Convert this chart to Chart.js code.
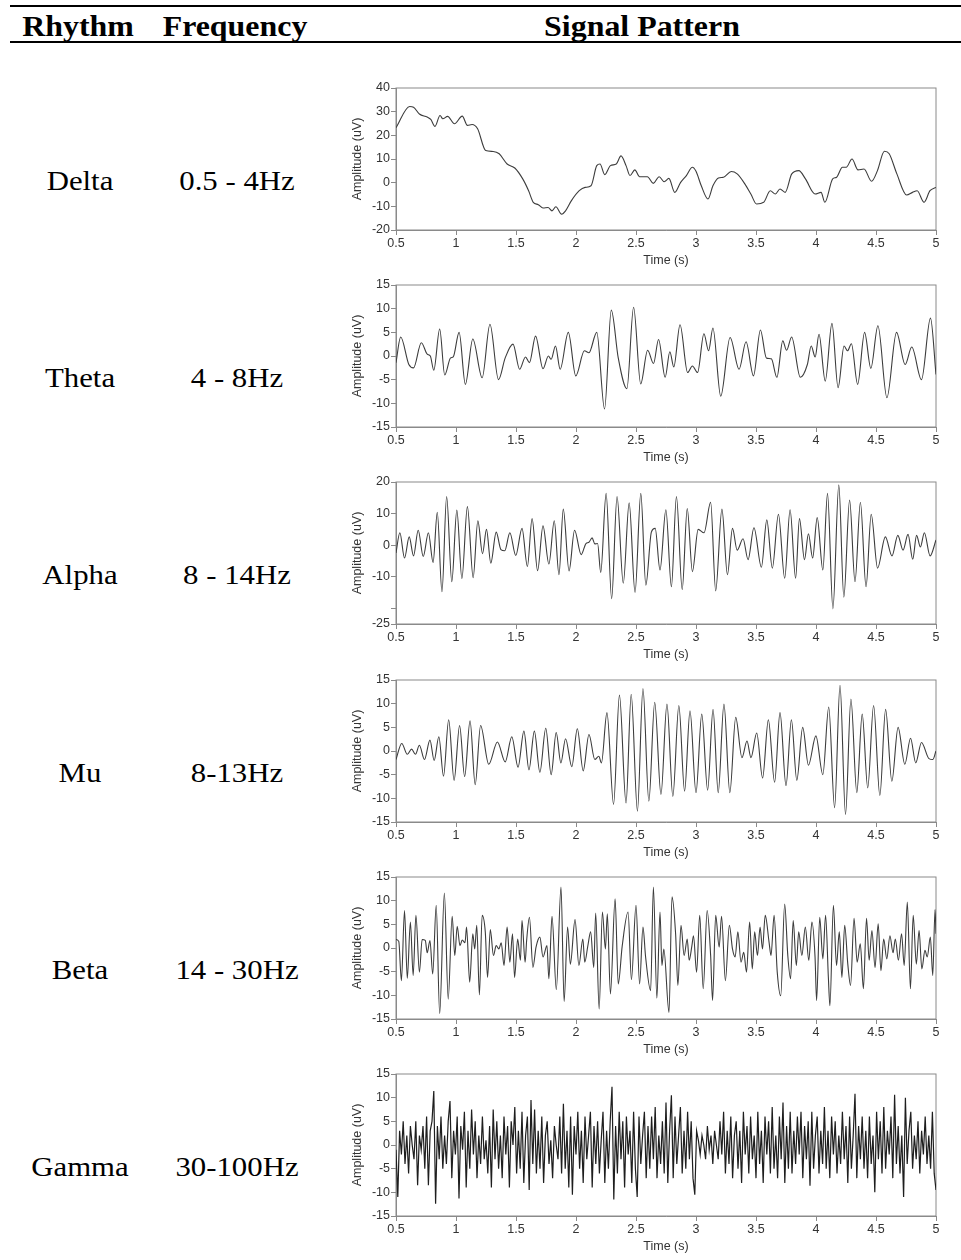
<!DOCTYPE html>
<html>
<head>
    <title>EEG Rhythms</title>
    <script src="https://cdn.jsdelivr.net/npm/chart.js"></script>
    <style>
        body { margin: 0; background: #fff; }
        #page { position: relative; width: 961px; height: 1260px; overflow: hidden; }
        .rule { position: absolute; left: 10px; right: 0; height: 2px; background: #000; }
        .txt {
            position: absolute; white-space: nowrap; line-height: 1;
            font-family: 'Liberation Serif', 'Times New Roman', serif; color: #000;
            transform: translateX(-50%) scaleX(1.1);
        }
        .head { font-weight: bold; font-size: 29px; }
        .cell { font-size: 28px; }
        canvas { position: absolute; }
    </style>
</head>
<body>
<div id="page">
    <div class="rule" style="top:5px"></div>
    <div class="rule" style="top:41px"></div>
    <div class="txt head" style="left:78px;top:12px">Rhythm</div>
    <div class="txt head" style="left:235px;top:12px">Frequency</div>
    <div class="txt head" style="left:642px;top:12px">Signal Pattern</div>
</div>
<script>
    const rhythms = ['Delta', 'Theta', 'Alpha', 'Mu', 'Beta', 'Gamma'];
    const bands = ['0.5 - 4Hz', '4 - 8Hz', '8 - 14Hz', '8-13Hz', '14 - 30Hz', '30-100Hz'];
    const timeTicks = { min: 0.5, max: 5, step: 0.5 };

    // Delta (y -20..40)
    const deltaTime = [0.5,0.614,0.646,0.695,0.76,0.79,0.825,0.867,0.89,0.93,0.987,1.052,1.095,1.134,1.18,1.247,1.31,1.36,1.426,1.49,
        1.556,1.605,1.644,1.686,1.725,1.767,1.8,1.832,1.88,1.913,1.962,2.027,2.076,2.125,2.173,2.2,2.24,2.287,2.336,2.375,
        2.417,2.45,2.49,2.53,2.595,2.644,2.693,2.735,2.774,2.823,2.872,2.92,2.97,3.0,3.044,3.1,3.141,3.187,3.229,3.294,
        3.343,3.408,3.457,3.505,3.564,3.619,3.661,3.7,3.743,3.798,3.857,3.912,3.993,4.042,4.074,4.139,4.172,4.22,4.252,4.3,
        4.35,4.4,4.463,4.512,4.57,4.61,4.674,4.755,4.804,4.843,4.9,4.95,5.0];
    const deltaAmp = [23.2,32.2,31.9,29,27.7,26.7,23.8,28.4,27,28,24.9,28.1,24.2,24.6,22.8,13.6,13.2,12.2,7.9,6.2,
        1.6,-3.4,-8.3,-9.3,-10.7,-10.5,-11.9,-10.2,-13.3,-11.9,-7.6,-3.4,-2,-1.3,7.2,7.9,3.4,7.2,7.9,11.3,
        7.2,3,5.4,2.5,2.5,-0.3,2.5,0.4,1.8,-4.1,0.1,3,6.5,4.8,-1.3,-6.9,-1.3,2,2.3,4.7,
        3.7,-0.6,-4.8,-9,-8.3,-3.4,-4.8,-2.7,-4.1,3.7,5.1,1.6,-4.8,-4.1,-8.3,1.6,2.3,6.5,6.5,10,
        5.4,5.8,0.6,5.1,13.3,12.2,3.7,-5.2,-4.1,-3.4,-8.3,-3.4,-2];

    // Theta (y -15..15)
    const thetaTime = [0.5,0.539,0.607,0.646,0.711,0.76,0.786,0.815,0.864,0.906,
        0.955,0.977,1.026,1.078,1.14,1.218,1.283,1.354,1.41,1.475,
        1.53,1.579,1.612,1.663,1.725,1.77,1.793,1.829,1.868,1.936,
        1.998,2.07,2.108,2.173,2.238,2.294,2.352,2.424,2.48,2.539,
        2.597,2.646,2.688,2.743,2.782,2.815,2.867,2.93,2.97,3.013,
        3.066,3.105,3.141,3.206,3.284,3.359,3.417,3.479,3.537,3.586,
        3.628,3.674,3.723,3.755,3.797,3.869,3.928,3.96,3.993,4.025,
        4.077,4.133,4.184,4.234,4.263,4.295,4.347,4.405,4.457,4.516,
        4.591,4.671,4.743,4.798,4.879,4.954,5.0];
    const thetaAmp = [-1.4,4,-1.8,-2.5,2.8,0.4,0,-3,5.7,-4,
        -0.4,-0.2,5,-6,3.6,-4.6,6.7,-5,-0.4,2.5,
        -2.8,-0.2,-1.4,4.2,-2.7,0,-0.7,2.1,-2.8,5,
        -4.2,1.1,0.7,5,-11.2,9.7,-0.4,-6.9,10.3,-5.9,
        1.2,-1.6,3.5,-4.5,0.9,-2.3,6.6,-3.5,-2.1,-3.5,
        4.7,1.1,5.9,-8.5,3.9,-2.8,3,-4.2,5.5,-0.4,
        -0.6,-4.5,3.2,1.2,4,-4.5,-1.8,2.1,-0.2,4.6,
        -5.3,6.9,-6.7,2.1,1.1,2.6,-6,5,-2.6,6.4,
        -8.8,5,-1.8,1.9,-5,8,-3.9];

    // Alpha (y -25..20, tick at -20 without label)
    const alphaTime = [0.5,0.532,0.571,0.61,0.646,0.685,0.727,0.77,0.809,0.844,
        0.883,0.922,0.965,1.007,1.049,1.095,1.143,1.182,1.221,1.254,
        1.29,1.335,1.374,1.406,1.449,1.498,1.55,1.595,1.634,1.68,
        1.725,1.774,1.819,1.858,1.894,1.942,1.988,2.043,2.083,2.108,
        2.134,2.157,2.18,2.206,2.251,2.297,2.342,2.394,2.443,2.492,
        2.54,2.582,2.628,2.66,2.7,2.749,2.795,2.837,2.885,2.927,
        2.97,3.018,3.067,3.122,3.164,3.216,3.262,3.304,3.343,3.392,
        3.434,3.483,3.545,3.59,3.636,3.687,3.739,3.784,3.83,3.862,
        3.904,3.937,3.972,4.01,4.057,4.096,4.141,4.19,4.232,4.28,
        4.325,4.37,4.417,4.46,4.513,4.578,4.633,4.682,4.725,4.767,
        4.806,4.838,4.87,4.903,4.951,5.0];
    const alphaAmp = [-2.5,3.9,-4.1,2.6,-3.4,4.7,-3.6,3.9,-5.5,10.4,
        -14.8,15.4,-11.6,11.1,-10.6,12.2,-10.3,7.7,-2.7,5,
        -5.7,4.1,-1.4,-1.8,3.9,-3.3,5.3,-6.8,8.4,-8.1,
        6.1,-6,7.7,-9.4,11.4,-8.2,4.7,-3,0.5,0.9,
        2.3,0.4,0.5,-8.7,16.4,-17,15.4,-12.1,13.4,-15,
        16.4,-12.7,4.1,5.3,-7.9,11.2,-13.2,15.4,-14.1,11.6,
        -8.4,5,3.9,13.6,-14.5,11.4,-9.4,5.3,-1.6,2,
        -4.6,5.5,-7,8,-7.3,9.8,-10.5,11.2,-10.5,8.4,
        -4.6,3.6,-4.1,8.7,-7.9,16.4,-20.2,19.1,-16.5,14.3,
        -11.6,13.6,-13.2,9.8,-7.3,2.6,-3.4,3.1,-1.6,3.4,
        -4.5,3.1,-0.6,3.9,-3.4,1.6];
    const alphaTicks = [-25, -20, -10, 0, 10, 20];
    const alphaUnlabelled = [-20];

    // Mu (y -15..15)
    const muTime = [0.5,0.548,0.594,0.63,0.662,0.695,0.737,0.783,0.818,0.857,
        0.896,0.939,0.984,1.03,1.072,1.117,1.16,1.205,1.273,1.345,
        1.41,1.465,1.517,1.566,1.608,1.653,1.699,1.748,1.793,1.835,
        1.874,1.913,1.965,2.011,2.06,2.108,2.157,2.19,2.212,2.258,
        2.313,2.362,2.417,2.46,2.512,2.558,2.607,2.656,2.708,2.758,
        2.807,2.857,2.905,2.95,3.0,3.048,3.097,3.142,3.185,3.233,
        3.282,3.331,3.383,3.425,3.458,3.506,3.555,3.603,3.655,3.7,
        3.75,3.795,3.84,3.889,3.937,3.999,4.057,4.106,4.155,4.2,
        4.246,4.291,4.34,4.385,4.431,4.48,4.532,4.58,4.632,4.684,
        4.74,4.788,4.831,4.879,4.941,4.974,5.0];
    const muAmp = [-1.8,1.6,-0.7,0.4,-0.7,1.2,-1.8,2.3,-2,3,
        -5.3,6.6,-6.2,5.4,-5.4,6.4,-7.1,5.4,-2.8,1.9,
        -2.3,3,-3.4,4.2,-4,4.2,-4.5,4.8,-5,3.9,
        -2.5,2.6,-3.3,4.7,-4.2,3.5,-1.8,-1.1,-2.5,8.1,
        -11.3,11.8,-11,12,-12.7,13.2,-10.6,10.3,-9.2,9.9,
        -9.6,9.6,-8.5,8.5,-8.8,7.8,-8.3,8.8,-8.8,9.9,
        -8.8,7.1,-1.4,2.1,-1.4,3.8,-5.7,6.6,-6.6,8.1,
        -7.3,6.6,-6.2,5,-3,3.2,-5,9.3,-12,13.9,
        -13.4,11,-8.8,7.8,-7.8,9.6,-9.4,8.8,-6.4,5,
        -2.8,2.7,-2.5,1.8,-1.6,-1.8,0];

    // Beta (y -15..15)
    const betaTime = [0.5,0.523,0.545,0.571,0.594,0.62,0.643,0.666,0.695,0.718,
        0.744,0.76,0.783,0.806,0.835,0.864,0.903,0.935,0.968,0.99,
        1.01,1.033,1.052,1.075,1.088,1.114,1.14,1.156,1.173,1.195,
        1.218,1.244,1.263,1.286,1.312,1.335,1.357,1.377,1.4,1.426,
        1.449,1.471,1.488,1.514,1.537,1.55,1.576,1.589,1.612,1.641,
        1.667,1.699,1.725,1.758,1.774,1.8,1.836,1.875,1.901,1.93,
        1.953,1.992,2.024,2.057,2.073,2.099,2.122,2.148,2.164,2.193,
        2.22,2.245,2.261,2.287,2.326,2.352,2.385,2.434,2.462,2.5,
        2.53,2.558,2.58,2.622,2.645,2.674,2.7,2.716,2.732,2.775,
        2.8,2.83,2.849,2.875,2.901,2.927,2.943,2.966,2.979,3.005,
        3.031,3.06,3.093,3.122,3.138,3.164,3.193,3.213,3.245,3.278,
        3.304,3.326,3.349,3.375,3.398,3.421,3.447,3.469,3.489,3.512,
        3.534,3.554,3.577,3.609,3.625,3.651,3.677,3.706,3.739,3.765,
        3.788,3.81,3.836,3.856,3.882,3.911,3.94,3.966,3.992,4.005,
        4.031,4.057,4.08,4.103,4.116,4.145,4.171,4.194,4.216,4.239,
        4.265,4.288,4.317,4.343,4.369,4.395,4.421,4.443,4.466,4.492,
        4.518,4.541,4.564,4.59,4.616,4.642,4.661,4.687,4.713,4.735,
        4.761,4.787,4.81,4.836,4.859,4.882,4.908,4.927,4.953,4.973,
        4.992,5.0];
    const betaAmp = [1.8,1.4,-6.9,7.9,-6.4,5.5,-5.8,6.9,-5.1,1.8,
        1.6,-1,1.6,-5.5,9,-13.9,11.6,-10.8,6.7,-1.6,
        4.6,0.5,1.7,1.1,4.4,-7.2,3,-0.2,4.8,-9.9,
        6.9,3.4,-6.2,3.9,-1.6,0.5,-0.2,1.1,-3.7,4.4,
        -3,3,-6.2,1.9,-2.6,5.8,-3,1.7,6.5,-4.1,
        0.2,2.3,-1.9,0.5,-6.5,6.7,-8.8,12.9,-11.3,4.4,
        -3.4,6,-3.7,1.9,-3,0.5,3.4,-4.1,7.4,-12.9,
        7.6,-0.2,7.2,-9.7,10.4,-7.6,0.4,7.6,-6.7,9,
        -7.6,4.4,-1.9,-9,12.9,-10.6,7.6,-3.7,-0.2,-13.6,
        10.8,3,-7.9,4.8,-1.6,1.9,-2.6,0.5,2.6,-5.1,
        6.9,-8.6,7.9,-1.6,-11.1,6.9,0.2,6.7,-6.9,4.8,
        -0.2,-1.9,3.4,-3,-0.9,-5.1,5.5,-4.4,3.4,-1.6,
        4.4,-0.2,6.9,1.2,-1.6,6.9,-5.1,-10.1,9.3,-1.6,
        -6.5,5.8,-3.7,3.4,-1.6,4.4,-2.6,5.5,-1.9,-11.1,
        6.5,-2.3,6.9,-6.2,-12.2,9,-3.7,3.4,-6.2,4.8,
        -3.4,-7.9,6.3,-3,0.9,-8.6,6.3,-2.6,3.7,-4.1,
        5.1,-4.8,1.9,-2.3,2.6,-1,1.9,-2.6,3,-3.7,
        9.7,-8.6,6.9,-3.4,3.7,-4.4,-0.5,-1.9,2.3,-5.8,
        8.1,3];

    // Gamma (y -15..15), sampled every 15 ms from 0.5 s
    const gammaStart = 0.5;
    const gammaStep = 0.015;
    const gammaAmp = [
        -1,-11,3,-2,5,-4,2,-6,4,0,-3,5,-8.5,2,-1,4,-5,6,-8.5,3,
        5,11.4,-12.4,4,-3,6,-5,2,-4,5,9.3,-7,3,-2,6,-11.3,4,-1,7,-9,
        3,-5,7.5,-2,5,-7,2,-4,6,-3,1,-6,4,-9,7.5,-3,5,-5,2,-7,
        6,-2,4,-9,5,0,8,-6,3,-5,7,-8,2,6,-9.5,9.5,-4,7.5,-6,3,
        -5,6,-8,2,5,-4,1,-7,4,0,-3,6,-6,8.7,-5,3,-9,6,-10.5,4,
        -2,7,-5,3,-8,6,-3,2,7,-9,4,-4,5,-6,1,7,-8,3,-5,5,
        12.3,-11.5,4,-6,7,-3,5,-9,6,-2,3,-8,7,-5,-11,6,-4,2,7,-7,
        4,-5,6,-3,8,-7,2,-4,5,-6,9,-8,3,10.5,-7,6,-4,2,8,-6,
        3,-5,7,-3,5,-7,-10.5,3,1,-2,2,0,-3,4,-1,2,-4,3,0,-3,
        5,-2,7,-6,3,-4,6,-7,2,5,-5,3,-8,7,-2,4,-6,6,-3,2,
        -7,7,-4,3,-8,6,-2,5,-6,8,-5,2,-7,6,-3,9,-8,4,-5,7,
        -6,3,-4,6,-2,7,-7,4,-3,5,-8.6,7,-5,2,6,-6,3,-4,8,-5,
        3,-7,6,-2,5,-6,2,-4,7,-3,4,-8,6,-5,2,10.8,-7,4,-3,6,
        -5,3,-7,6,-4,2,-10,7,-3,5,-6,8,-5,3,-2,6,-7,10.6,-4,4,
        -6,2,-11,10,-4,3,7,-5,2,-3,5,-6,3,-2,6,-4,2,-5,7,-6,
        -9.5];
    const gammaTime = gammaAmp.map((v, i) => +(gammaStart + i * gammaStep).toFixed(3));

    const panels = [
        { time: deltaTime, amp: deltaAmp, min: -20, max: 40, step: 10 },
        { time: thetaTime, amp: thetaAmp, min: -15, max: 15, step: 5 },
        { time: alphaTime, amp: alphaAmp, min: -25, max: 20, ticks: alphaTicks, hide: alphaUnlabelled },
        { time: muTime, amp: muAmp, min: -15, max: 15, step: 5 },
        { time: betaTime, amp: betaAmp, min: -15, max: 15, step: 5 },
        { time: gammaTime, amp: gammaAmp, min: -15, max: 15, step: 5, straight: true }
    ];

    const page = document.getElementById('page');
    const axisFont = { family: "'Liberation Sans', Arial, Helvetica, sans-serif", size: 12.5 };
    const axisGray = '#8a8a8a';

    //box round the plot area
    const framePlugin = {
        id: 'frame',
        beforeDatasetsDraw(chart) {
            const { ctx, chartArea: a } = chart;
            ctx.save();
            ctx.strokeStyle = axisGray;
            ctx.lineWidth = 1;
            ctx.strokeRect(a.left, a.top, a.right - a.left, a.bottom - a.top);
            ctx.restore();
        }
    };

    panels.forEach((p, i) => {
        const top = Math.round(88 + i * 197.2);

        //row text
        const name = document.createElement('div');
        name.className = 'txt cell';
        name.style.left = '80px';
        name.style.top = (top + 79) + 'px';
        name.textContent = rhythms[i];
        page.appendChild(name);
        const band = document.createElement('div');
        band.className = 'txt cell';
        band.style.left = '237px';
        band.style.top = (top + 79) + 'px';
        band.textContent = bands[i];
        page.appendChild(band);

        const canvas = document.createElement('canvas');
        canvas.width = 610;
        canvas.height = 194;
        canvas.style.left = '340px';
        canvas.style.top = (top - 10) + 'px';
        page.appendChild(canvas);

        const points = p.time.map((t, k) => ({ x: t, y: p.amp[k] }));

        new Chart(canvas.getContext('2d'), {
            type: 'line',
            data: {
                datasets: [{
                    data: points,
                    borderColor: p.straight ? '#1e1e1e' : '#3c3c3c',
                    borderWidth: p.straight ? 1.2 : 1.1,
                    pointRadius: 0,
                    fill: false,
                    tension: p.straight ? 0 : 0.4,
                    cubicInterpolationMode: p.straight ? 'default' : 'monotone'
                }]
            },
            options: {
                responsive: false,
                animation: false,
                devicePixelRatio: 1,
                layout: { padding: { top: 10, right: 14, bottom: 0, left: 0 } },
                plugins: { legend: { display: false }, tooltip: { enabled: false } },
                scales: {
                    x: {
                        type: 'linear',
                        min: timeTicks.min,
                        max: timeTicks.max,
                        afterFit: s => { s.height = 42; },
                        ticks: {
                            stepSize: timeTicks.step,
                            autoSkip: false,
                            maxRotation: 0,
                            padding: 1,
                            color: '#333',
                            font: axisFont,
                            callback: v => String(+v.toFixed(1))
                        },
                        grid: { drawOnChartArea: false, drawTicks: true, tickLength: 5, color: axisGray },
                        border: { color: axisGray },
                        title: { display: true, text: 'Time (s)', color: '#333', font: axisFont, padding: { top: 4, bottom: 4 } }
                    },
                    y: {
                        min: p.min,
                        max: p.max,
                        afterFit: s => { s.width = 56; },
                        afterBuildTicks: p.ticks ? s => { s.ticks = p.ticks.map(v => ({ value: v })); } : undefined,
                        ticks: {
                            stepSize: p.step,
                            autoSkip: false,
                            padding: 1,
                            color: '#333',
                            font: axisFont,
                            callback: v => (p.hide && p.hide.includes(v)) ? '' : v
                        },
                        grid: { drawOnChartArea: false, drawTicks: true, tickLength: 5, color: axisGray },
                        border: { color: axisGray },
                        title: { display: true, text: 'Amplitude (uV)', color: '#333', font: axisFont, padding: { top: 10, bottom: 4 } }
                    }
                }
            },
            plugins: [framePlugin]
        });
    });
</script>
</body>
</html>
